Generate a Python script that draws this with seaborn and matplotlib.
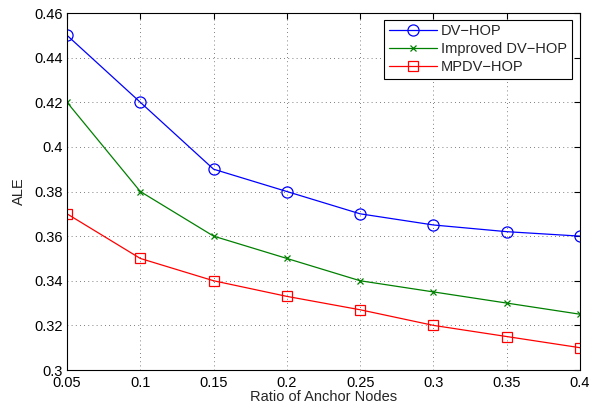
import matplotlib
matplotlib.use("Agg")
import matplotlib.pyplot as plt
import seaborn as sns
import pandas as pd

x = [0.05, 0.1, 0.15, 0.2, 0.25, 0.3, 0.35, 0.4]
dv_hop = [0.45, 0.42, 0.39, 0.38, 0.37, 0.365, 0.362, 0.36]
improved = [0.42, 0.38, 0.36, 0.35, 0.34, 0.335, 0.33, 0.325]
mpdv = [0.37, 0.35, 0.34, 0.333, 0.327, 0.32, 0.315, 0.31]
names = ["DV\u2212HOP", "Improved DV\u2212HOP", "MPDV\u2212HOP"]
xticks = [0.05, 0.1, 0.15, 0.2, 0.25, 0.3, 0.35, 0.4]
yticks = [0.3, 0.32, 0.34, 0.36, 0.38, 0.4, 0.42, 0.44, 0.46]

sns.set_style("white")
plt.rcParams['font.family'] = ['Liberation Sans', 'DejaVu Sans']

fig = plt.figure(figsize=(5.91, 4.13), dpi=100)
ax = fig.add_axes([0.1134, 0.1041, 0.868, 0.8644])

series = [
    (dv_hop, names[0], "#0000ff", "o", 8),
    (improved, names[1], "#008000", "x", 5),
    (mpdv, names[2], "#ff0000", "s", 6.5),
]
for ys, nm, col, mk, ms in series:
    df = pd.DataFrame({"x": x, "y": ys})
    sns.lineplot(data=df, x="x", y="y", ax=ax, color=col, marker=mk,
                 markersize=ms, markerfacecolor="none", markeredgecolor=col,
                 markeredgewidth=0.9, linewidth=0.9, label=nm)

ax.set_xlim(0.05, 0.4)
ax.set_ylim(0.3, 0.46)
ax.set_xticks(xticks)
ax.set_xticklabels([f"{v:g}" for v in xticks])
ax.set_yticks(yticks)
ax.set_yticklabels([f"{v:g}" for v in yticks])
ax.grid(True, linestyle=(0, (1, 4)), color="#555555", linewidth=0.6)
ax.tick_params(direction="in", length=4, width=0.8, top=True, right=True,
               labelsize=10.5, colors="black")
ax.tick_params(axis="x", pad=4)
ax.tick_params(axis="y", pad=3)
for sp in ax.spines.values():
    sp.set_visible(True)
    sp.set_color("black")
    sp.set_linewidth(0.8)
ax.set_xlabel("Ratio of Anchor Nodes", fontsize=10.5, labelpad=0)
ax.set_ylabel("ALE", fontsize=10.5, labelpad=6)

leg = ax.legend(loc="upper right", bbox_to_anchor=(0.9835, 0.981),
                fontsize=10.5, frameon=True, fancybox=False, edgecolor="black",
                framealpha=1, borderpad=0.3, labelspacing=0.28,
                handlelength=3.3, handletextpad=0.3, borderaxespad=0)
leg.get_frame().set_linewidth(0.8)

fig.savefig("out.png", dpi=100)
